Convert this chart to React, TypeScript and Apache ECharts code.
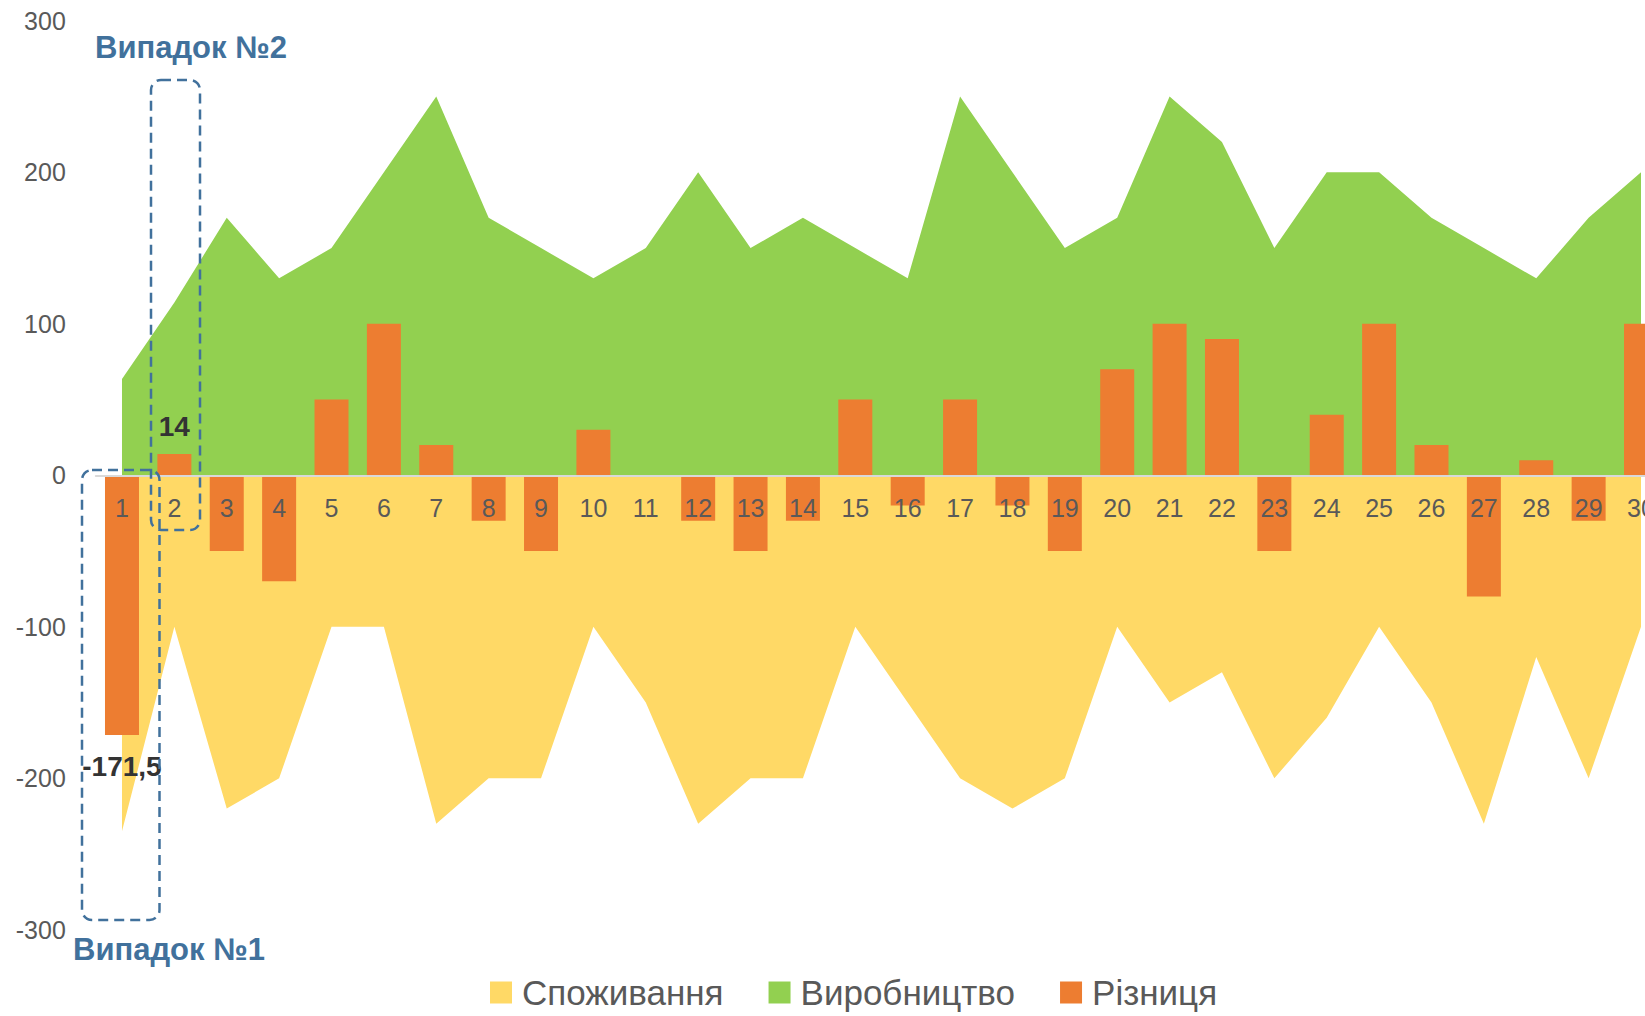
import React, { useEffect, useRef } from "react";
import * as echarts from "echarts";

const categories = Array.from({ length: 30 }, (_, i) => String(i + 1));
const consumption = [-235, -100, -220, -200, -100, -100, -230, -200, -200, -100, -150, -230, -200, -200, -100, -150, -200, -220, -200, -100, -150, -130, -200, -160, -100, -150, -230, -120, -200, -100];
const production = [63.5, 114, 170, 130, 150, 200, 250, 170, 150, 130, 150, 200, 150, 170, 150, 130, 250, 200, 150, 170, 250, 220, 150, 200, 200, 170, 150, 130, 170, 200];
const difference = [-171.5, 14, -50, -70, 50, 100, 20, -30, -50, 30, 0, -30, -50, -30, 50, -20, 50, -20, -50, 70, 100, 90, -50, 40, 100, 20, -80, 10, -30, 100];
const seriesNames = ["Споживання", "Виробництво", "Різниця"];
const annotationTexts = ["Випадок №2", "Випадок №1"];
const labelTexts: Record<number, string> = { 0: "-171,5", 1: "14" };

const FONT = "'Liberation Sans', Arial, sans-serif";
const BLUE = "#41719c";
const GRID_TOP = 20.8;
const GRID_BOTTOM = 86.2;
const CHART_H = 1016;
const Y_MIN = -300;
const Y_MAX = 300;

export default function App() {
  const ref = useRef<HTMLDivElement>(null);
  useEffect(() => {
    if (!ref.current) return;
    const chart = echarts.init(ref.current, undefined, { renderer: "svg" });
    // place the category axis on the zero line (offset from the grid bottom)
    const plotH = CHART_H - GRID_TOP - GRID_BOTTOM;
    const zeroOffset = -plotH * (0 - Y_MIN) / (Y_MAX - Y_MIN);
    const barData = difference.map((v, i) => {
      if (labelTexts[i] !== undefined) {
        return {
          value: v,
          label: {
            show: true,
            position: v < 0 ? "bottom" : "top",
            distance: v < 0 ? 17 : 14,
            formatter: labelTexts[i],
            fontFamily: FONT,
            fontWeight: "bold",
            fontSize: 28,
            color: "#333333",
          },
        };
      }
      return v;
    });
    chart.setOption({
      animation: false,
      textStyle: { fontFamily: FONT },
      grid: {
        left: 95.8,
        right: -22.2,
        top: GRID_TOP,
        bottom: GRID_BOTTOM,
        containLabel: false,
        outerBoundsMode: "none",
      },
      legend: {
        data: seriesNames,
        left: 485,
        top: 970,
        itemWidth: 22,
        itemHeight: 22,
        itemGap: 45,
        icon: "rect",
        textStyle: { fontFamily: FONT, fontSize: 35, color: "#595959", lineHeight: 35, padding: [0, 0, 0, 5] },
      },
      xAxis: {
        type: "category",
        data: categories,
        z: 10,
        offset: zeroOffset,
        axisLine: { show: true, onZero: false, lineStyle: { color: "#d9d9d9", width: 2 } },
        axisTick: { show: false },
        axisLabel: { interval: 0, fontSize: 25, color: "#595959", margin: 20, fontFamily: FONT },
        splitLine: { show: false },
      },
      yAxis: {
        type: "value",
        min: Y_MIN,
        max: Y_MAX,
        interval: 100,
        axisLine: { show: false },
        axisTick: { show: false },
        splitLine: { show: false },
        axisLabel: { fontSize: 25, color: "#595959", margin: 30, fontFamily: FONT },
      },
      series: [
        {
          name: seriesNames[0],
          type: "line",
          z: 2,
          data: consumption,
          symbol: "none",
          lineStyle: { width: 0 },
          itemStyle: { color: "#FFD966" },
          areaStyle: { color: "#FFD966", opacity: 1 },
        },
        {
          name: seriesNames[1],
          type: "line",
          z: 2,
          data: production,
          symbol: "none",
          lineStyle: { width: 0 },
          itemStyle: { color: "#92D050" },
          areaStyle: { color: "#92D050", opacity: 1 },
        },
        {
          name: seriesNames[2],
          type: "bar",
          z: 4,
          data: barData,
          barWidth: 34,
          itemStyle: { color: "#ED7D31" },
        },
      ],
      graphic: [
        {
          type: "rect",
          z: 100,
          shape: { x: 151, y: 80, width: 49, height: 450, r: 10 },
          style: { fill: "none", stroke: BLUE, lineWidth: 2.5, lineDash: [10, 6] },
        },
        {
          type: "rect",
          z: 100,
          shape: { x: 82, y: 470, width: 77.5, height: 450, r: 10 },
          style: { fill: "none", stroke: BLUE, lineWidth: 2.5, lineDash: [10, 6] },
        },
        {
          type: "text",
          z: 100,
          x: 95,
          y: 47.5,
          style: {
            text: annotationTexts[0],
            fontFamily: FONT,
            fontWeight: "bold",
            fontSize: 31,
            fill: BLUE,
            verticalAlign: "middle",
            align: "left",
          },
        },
        {
          type: "text",
          z: 100,
          x: 73,
          y: 949,
          style: {
            text: annotationTexts[1],
            fontFamily: FONT,
            fontWeight: "bold",
            fontSize: 31,
            fill: BLUE,
            verticalAlign: "middle",
            align: "left",
          },
        },
      ],
    });
    return () => chart.dispose();
  }, []);
  return (
    <div
      ref={ref}
      style={{ position: "absolute", left: 0, top: 0, width: 1645, height: 1016, overflow: "hidden", background: "#ffffff" }}
    />
  );
}
